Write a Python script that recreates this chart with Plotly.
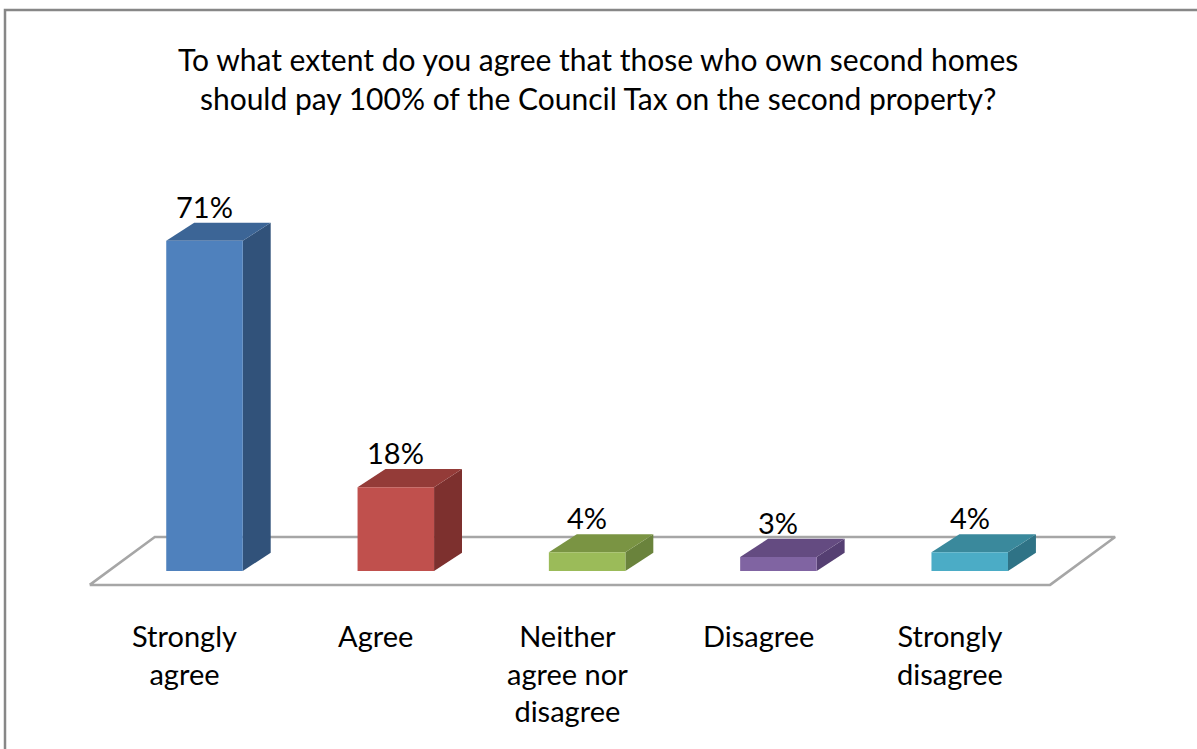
import plotly.graph_objects as go

# Survey responses (percent of respondents)
categories = ["Strongly agree", "Agree", "Neither agree nor disagree", "Disagree", "Strongly disagree"]
tick_labels = ["Strongly<br>agree", "Agree", "Neither<br>agree nor<br>disagree", "Disagree", "Strongly<br>disagree"]
values = [71, 18, 4, 3, 4]
value_labels = ["71%", "18%", "4%", "3%", "4%"]

front_colors = ["#4F81BD", "#C0504D", "#9BBB59", "#8064A2", "#4BACC6"]
side_colors = ["#31527A", "#7D302E", "#6A833C", "#553F72", "#2F7386"]
top_colors = ["#3C6596", "#943B38", "#7A9443", "#644B81", "#3A899C"]

title_text = ("To what extent do you agree that those who own second homes<br>"
              "should pay 100% of the Council Tax on the second property?")

FONT = "Lato, Carlito, 'Open Sans', sans-serif"

# bar geometry in axis units
half_w = 0.2          # half of the front-face width
dep_x = 0.146         # depth offset along x
dep_y = 3.9           # depth offset along y (percentage points)


def poly(xs, ys, color, name):
    return go.Scatter(x=xs + xs[:1], y=ys + ys[:1], mode="lines", fill="toself",
                      fillcolor=color, line=dict(width=0), name=name,
                      hoverinfo="skip", showlegend=False)


fig = go.Figure()

# floor plate
fx0, fx1 = -0.6, 4.42
fy0, fy1 = -3.0, 7.3
fdx = 0.34
fig.add_trace(go.Scatter(
    x=[fx0, fx1, fx1 + fdx, fx0 + fdx, fx0],
    y=[fy0, fy0, fy1, fy1, fy0],
    mode="lines", fill="toself", fillcolor="white",
    line=dict(color="#A6A6A6", width=2.5),
    hoverinfo="skip", showlegend=False))

for i, v in enumerate(values):
    xl, xr = i - half_w, i + half_w
    # right side face
    fig.add_trace(poly([xr, xr + dep_x, xr + dep_x, xr],
                       [0, dep_y, v + dep_y, v], side_colors[i], categories[i]))
    # top face
    fig.add_trace(poly([xl, xr, xr + dep_x, xl + dep_x],
                       [v, v, v + dep_y, v + dep_y], top_colors[i], categories[i]))
    # front face
    fig.add_trace(poly([xl, xr, xr, xl], [0, 0, v, v], front_colors[i], categories[i]))

annotations = []
for i, v in enumerate(values):
    annotations.append(dict(
        x=i, y=v + dep_y, xref="x", yref="y", text=value_labels[i],
        showarrow=False, yanchor="bottom", yshift=-3,
        font=dict(family=FONT, size=29, color="black")))
    annotations.append(dict(
        x=i - 0.105, y=-9.6, xref="x", yref="y", text=tick_labels[i],
        showarrow=False, yanchor="top", align="center",
        font=dict(family=FONT, size=29, color="black")))

annotations.append(dict(
    x=0.4996, y=1 - 78 / 749, xref="paper", yref="paper", text=title_text,
    showarrow=False, xanchor="center", yanchor="middle", align="center",
    font=dict(family=FONT, size=30, color="black")))

fig.update_layout(
    width=1197, height=749,
    margin=dict(l=0, r=0, t=0, b=0),
    paper_bgcolor="white", plot_bgcolor="white",
    xaxis=dict(range=[-1.069, 5.188], visible=False, fixedrange=True),
    yaxis=dict(range=[-38.3, 122.8], visible=False, fixedrange=True),
    annotations=annotations,
    shapes=[dict(type="rect", xref="paper", yref="paper",
                 x0=5 / 1197, x1=1.02, y0=-0.02, y1=1 - 10 / 749,
                 line=dict(color="#878787", width=2.5), layer="above")],
    showlegend=False,
)

fig.write_html("out.html")
